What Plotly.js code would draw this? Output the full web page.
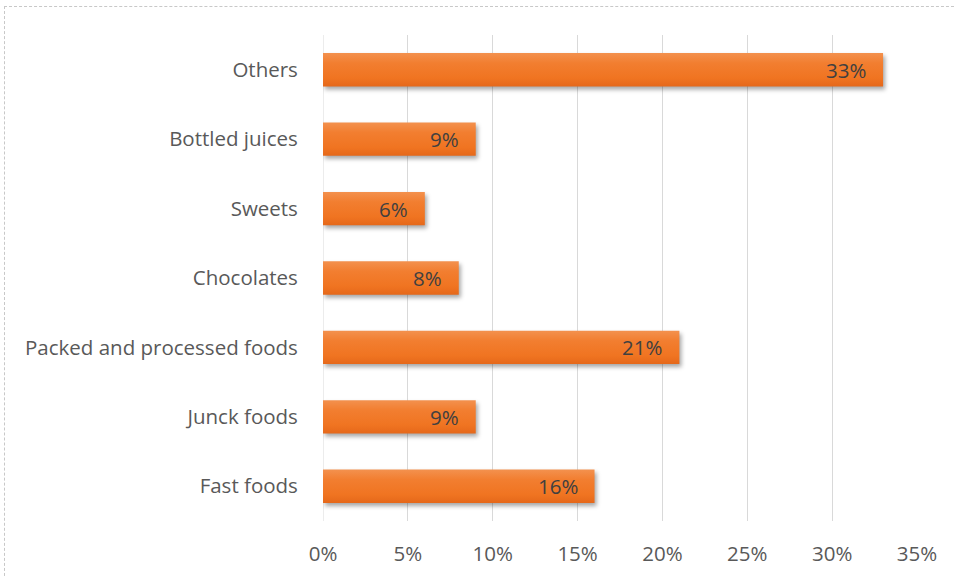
<!DOCTYPE html>
<html>
<head>
<meta charset="utf-8">
<script src="https://cdn.plot.ly/plotly-3.0.1.min.js"></script>
<style>
  html, body { margin: 0; padding: 0; background: #fff; }
  #frame { position: absolute; left: 4px; top: 6px; width: 960px; height: 580px; border: 1px dashed #c8c8c8; box-sizing: border-box; pointer-events: none; }
  #chart { width: 955px; height: 577px; }
  .bars path { fill: url(#barGrad) !important; filter: drop-shadow(2px 3px 2px rgba(0,0,0,0.35)); }
</style>
</head>
<body>
<svg width="0" height="0" style="position:absolute">
  <defs>
    <linearGradient id="barGrad" x1="0" y1="0" x2="0" y2="1">
      <stop offset="0" stop-color="#F3914E"/>
      <stop offset="0.3" stop-color="#F27E30"/>
      <stop offset="0.75" stop-color="#F07421"/>
      <stop offset="1" stop-color="#E5681A"/>
    </linearGradient>
  </defs>
</svg>
<div id="chart"></div>
<div id="frame"></div>
<script>
const categories = ["Fast foods", "Junck foods", "Packed and processed foods", "Chocolates", "Sweets", "Bottled juices", "Others"];
const values = [16, 9, 21, 8, 6, 9, 33];
const xTicks = [0, 5, 10, 15, 20, 25, 30, 35];
const xTickLabels = ["0%", "5%", "10%", "15%", "20%", "25%", "30%", "35%"];

const font = "'Open Sans', 'Noto Sans', sans-serif";
const fsize = 20.5;

const trace = {
  type: "bar",
  orientation: "h",
  x: values,
  y: categories,
  marker: {
    color: "#F0761F",
    line: { color: "rgba(0,0,0,0)", width: 0 }
  },
  width: 0.48,
  hoverinfo: "none"
};

const annotations = values.map((v, i) => ({
  x: v,
  y: categories[i],
  xref: "x",
  yref: "y",
  text: v + "%",
  showarrow: false,
  xanchor: "right",
  yanchor: "middle",
  xshift: -15,
  font: { family: font, size: fsize, color: "#404040" }
}));

const layout = {
  width: 955,
  height: 577,
  margin: { l: 323, r: 38, t: 35, b: 56 },
  paper_bgcolor: "#ffffff",
  plot_bgcolor: "#ffffff",
  showlegend: false,
  font: { family: font, size: fsize, color: "#595959" },
  xaxis: {
    range: [0, 35],
    tickvals: xTicks,
    ticktext: xTickLabels,
    showgrid: true,
    gridcolor: "#d9d9d9",
    gridwidth: 1,
    zeroline: false,
    showline: false,
    ticks: "outside",
    ticklen: 14,
    tickcolor: "rgba(0,0,0,0)",
    tickfont: { family: font, size: fsize, color: "#595959" },
    fixedrange: true
  },
  yaxis: {
    categoryorder: "array",
    categoryarray: categories,
    showgrid: false,
    zeroline: false,
    showline: false,
    ticks: "outside",
    ticklen: 20,
    tickcolor: "rgba(0,0,0,0)",
    tickfont: { family: font, size: fsize, color: "#595959" },
    fixedrange: true
  },
  shapes: [{
    type: "line", xref: "x", yref: "paper", x0: 0, x1: 0, y0: 0, y1: 1,
    line: { color: "#d9d9d9", width: 1 }, layer: "below"
  }],
  annotations: annotations
};

Plotly.newPlot("chart", [trace], layout, { displayModeBar: false, staticPlot: true });
</script>
</body>
</html>
